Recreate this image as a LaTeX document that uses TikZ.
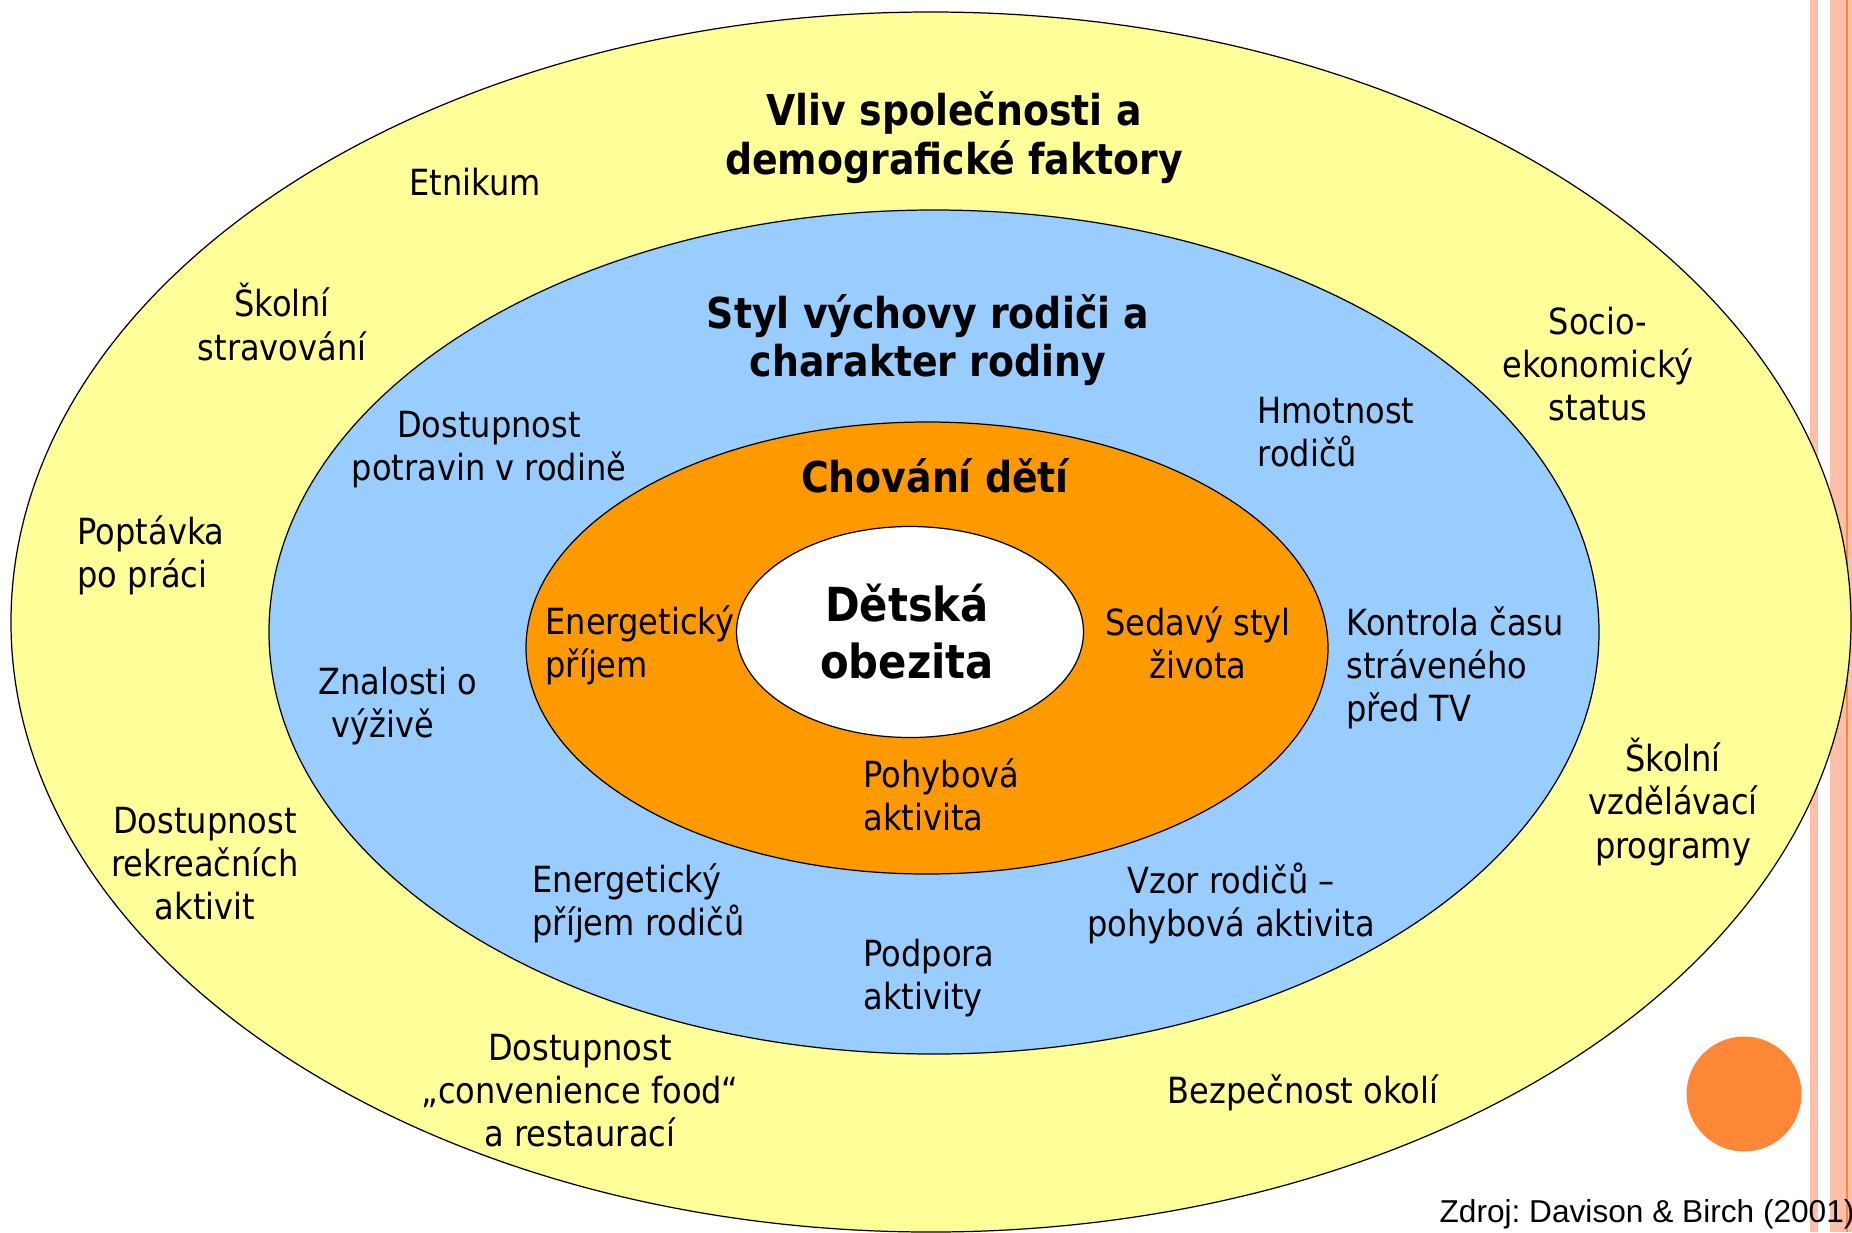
\documentclass[tikz,border=0pt]{standalone}
\usepackage{fontspec}
\setmainfont{DejaVu Sans}[FakeStretch=0.89]
\newfontfamily\srcfont{Liberation Sans}
\usetikzlibrary{shapes.geometric}
\definecolor{societyyellow}{HTML}{FFFF99}
\definecolor{familyblue}{HTML}{99CCFF}
\definecolor{childorange}{HTML}{FF9900}
\definecolor{dotorange}{HTML}{FF8838}
\definecolor{stripepink}{HTML}{FCC0A8}
\frenchspacing

\begin{document}
\begin{tikzpicture}[x=0.2mm, y=-0.2mm, line width=0.7pt,
	ring node/.style={ellipse,draw,inner sep=0pt},
	factor node/.style={inner sep=0pt,font=\fontsize{20.5}{24.5}\selectfont},
	title node/.style={inner sep=0pt,align=center,font=\fontsize{24.2}{27.8}\selectfont\bfseries}]
	
	\clip (0,0) rectangle (1852,1232);
	\fill[white] (0,0) rectangle (1852,1232);
	\fill[stripepink] (1810,0) rectangle (1818,1232);
	\fill[stripepink] (1830,0) rectangle (1852,1232);
	\fill[dotorange] (1846,0) rectangle (1848,1232);
	
	\node[ring node,fill=societyyellow,minimum width=368mm,minimum height=244mm] (1) at (931,622) {};
	\node[ring node,fill=familyblue,minimum width=266mm,minimum height=168.8mm] (2) at (934,632) {};
	\node[ring node,fill=childorange,minimum width=160.4mm,minimum height=90.4mm] (3) at (927,648) {};
	\node[ring node,fill=white,minimum width=69.4mm,minimum height=42.2mm] (4) at (910,632) {};
	\node[circle,fill=dotorange,inner sep=0pt,minimum size=23mm] (5) at (1744,1094) {};
	
	\node[title node] (6) at (954,138) {Vliv společnosti a\\demografické faktory};
	\node[title node] (7) at (928,340) {Styl výchovy rodiči a\\charakter rodiny};
	\node[title node,anchor=base] (8) at (935,492) {Chování dětí};
	\node[title node,font=\fontsize{26.7}{32.4}\selectfont\bfseries] (9) at (907,632) {Dětská\\obezita};
	
	\node[factor node,anchor=base] (10) at (475,195) {Etnikum};
	\node[factor node,align=center] (11) at (282,322) {Školní\\stravování};
	\node[factor node,align=center] (12) at (1598,364) {Socio-\\ekonomický\\status};
	\node[factor node,align=center] (13) at (489,450) {Dostupnost\\potravin v rodině};
	\node[factor node,align=left,anchor=west] (14) at (1257,432) {Hmotnost\\rodičů};
	\node[factor node,align=left,anchor=west] (15) at (77,555) {Poptávka\\po práci};
	\node[factor node,align=left,anchor=west] (16) at (545,645) {Energetický\\příjem};
	\node[factor node,align=center] (17) at (1198,643) {Sedavý styl\\života};
	\node[factor node,align=left,anchor=west] (18) at (1346,668) {Kontrola času\\stráveného\\před TV};
	\node[factor node,align=left,anchor=west] (19) at (318,706) {Znalosti o\\\hspace*{2.6mm}výživě};
	\node[factor node,align=left,anchor=west] (20) at (863,795) {Pohybová\\aktivita};
	\node[factor node,align=center] (21) at (1673,802) {Školní\\vzdělávací\\programy};
	\node[factor node,align=center] (22) at (205,864) {Dostupnost\\rekreačních\\aktivit};
	\node[factor node,align=left,anchor=west] (23) at (532,903) {Energetický\\příjem rodičů};
	\node[factor node,align=center] (24) at (1231,903) {Vzor rodičů –\\pohybová aktivita};
	\node[factor node,align=left,anchor=west] (25) at (863,978) {Podpora\\aktivity};
	\node[factor node,align=center] (26) at (580,1091) {Dostupnost\\„convenience food“\\a restaurací};
	\node[factor node,anchor=base] (27) at (1303,1103) {Bezpečnost okolí};
	\node[inner sep=0pt,anchor=base west,font=\srcfont\fontsize{18}{21}\selectfont] (28) at (1439,1222) {Zdroj: Davison \& Birch (2001)};
\end{tikzpicture}
\end{document}
